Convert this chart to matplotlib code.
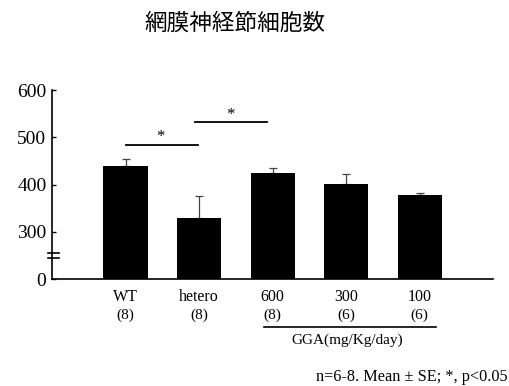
import numpy as np
import matplotlib
matplotlib.use("Agg")
import matplotlib.pyplot as plt
from matplotlib.transforms import blended_transform_factory

groups = ["WT", "hetero", "600", "300", "100"]
n_labels = ["(8)", "(8)", "(8)", "(6)", "(6)"]
means = [440, 330, 424, 401, 377]
se = [13, 45, 10, 21, 4]
y_ticks = [200, 300, 400, 500, 600]
y_tick_labels = ["0", "300", "400", "500", "600"]

plt.rcParams["font.family"] = ["Liberation Serif", "DejaVu Serif"]

fig = plt.figure(figsize=(5.10, 3.86), dpi=100)
ax = fig.add_axes([0.102, 0.2772, 0.865, 0.4896])

x = np.arange(len(groups))
ax.bar(x, means, width=0.6, color="black", zorder=2)
ax.errorbar(x, means, yerr=[np.zeros(len(se)), se], fmt="none",
            ecolor="#444444", elinewidth=0.9, capsize=3, capthick=0.9, zorder=1)

# broken axis: value 0 sits where 200 would be
ax.set_ylim(200, 600)
ax.set_xlim(-1, 5)
ax.set_yticks(y_ticks)
ax.set_yticklabels(y_tick_labels, fontsize=14)
ax.tick_params(axis="y", direction="in", length=3, width=1, pad=4)
ax.set_xticks(x)
ax.set_xticklabels(groups, fontsize=11.5)
ax.tick_params(axis="x", length=0, pad=7)
for s in ["top", "right"]:
    ax.spines[s].set_visible(False)
ax.spines["left"].set_linewidth(1.2)
ax.spines["bottom"].set_linewidth(1.2)

# axis break marks
bt = blended_transform_factory(ax.transAxes, ax.transData)
for yb in (244, 255):
    ax.plot([-0.008, 0.016], [yb, yb], color="black", lw=1.2,
            transform=bt, clip_on=False, zorder=3)

# significance brackets
ax.plot([0, 0.98], [484, 484], color="black", lw=1.3, clip_on=False)
ax.text(0.48, 500, "*", ha="center", va="center", fontsize=12)
ax.plot([0.94, 1.92], [532, 532], color="black", lw=1.3, clip_on=False)
ax.text(1.43, 548, "*", ha="center", va="center", fontsize=12)

# n per group and GGA dose bracket
tx = blended_transform_factory(ax.transData, ax.transAxes)
for xi, nl in zip(x, n_labels):
    ax.text(xi, -0.19, nl, transform=tx, ha="center", va="center", fontsize=11)
ax.plot([1.88, 4.22], [-0.254, -0.254], color="black", lw=1.2,
        transform=tx, clip_on=False)
ax.text(3.02, -0.325, "GGA(mg/Kg/day)", transform=tx, ha="center",
        va="center", fontsize=11)

fig.text(0.46, 0.94, "網膜神経節細胞数", ha="center", va="center",
         fontsize=16.3, family=["Noto Sans CJK JP", "DejaVu Sans"])
fig.text(0.995, 0.023, "n=6-8. Mean ± SE; *, p<0.05", ha="right",
         va="center", fontsize=11.7)

fig.savefig("out.png", dpi=100)
